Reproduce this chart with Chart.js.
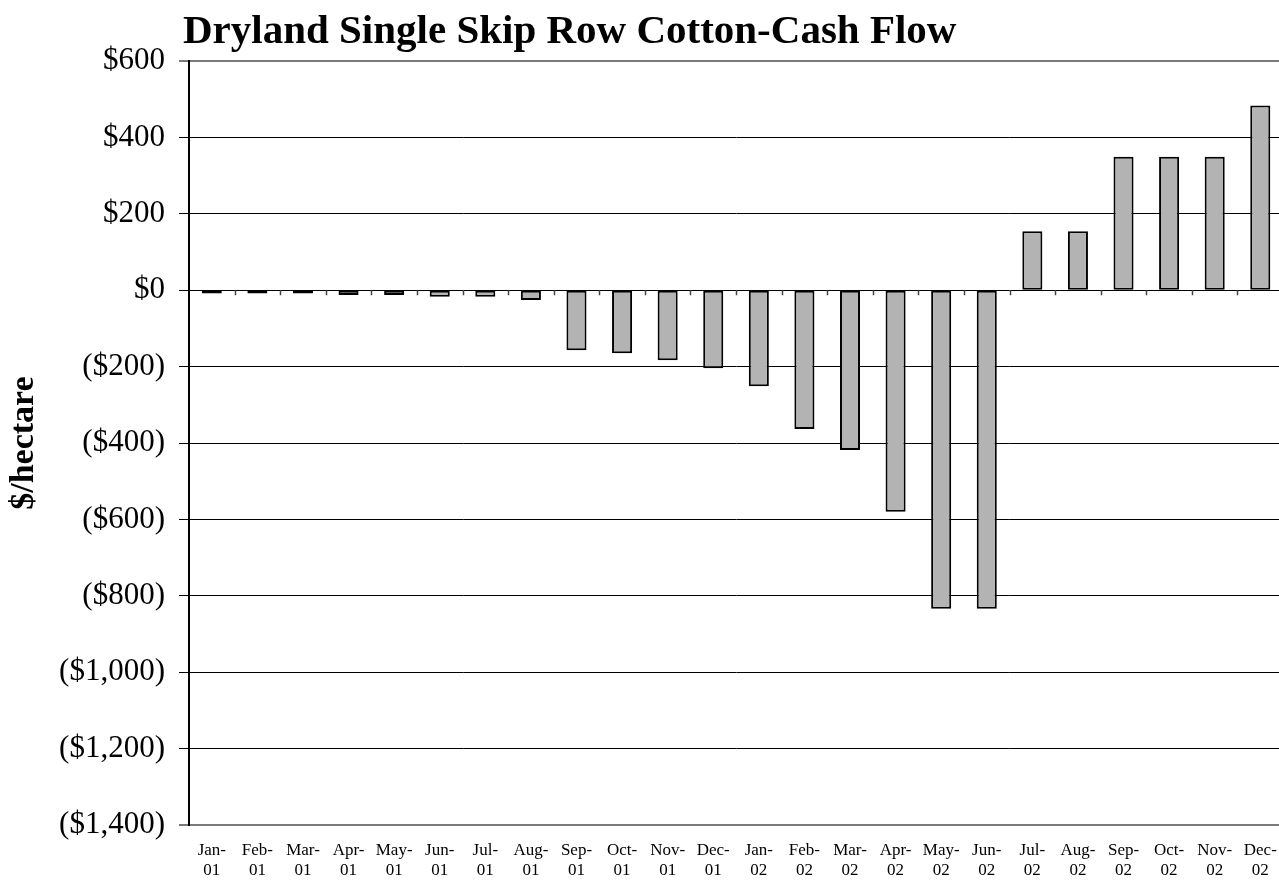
<!DOCTYPE html>
<html>
<head>
<meta charset="utf-8">
<title>Dryland Single Skip Row Cotton-Cash Flow</title>
<script src="https://cdn.jsdelivr.net/npm/chart.js@4"></script>
<style>
  html, body { margin: 0; padding: 0; background: #fff; overflow: hidden; }
  canvas { display: block; }
</style>
</head>
<body>
<canvas id="cashflow" width="1293" height="880"></canvas>
<script>
// monthly cash flow, $/hectare
const months = [
  ["Jan-", "01"], ["Feb-", "01"], ["Mar-", "01"], ["Apr-", "01"], ["May-", "01"], ["Jun-", "01"],
  ["Jul-", "01"], ["Aug-", "01"], ["Sep-", "01"], ["Oct-", "01"], ["Nov-", "01"], ["Dec-", "01"],
  ["Jan-", "02"], ["Feb-", "02"], ["Mar-", "02"], ["Apr-", "02"], ["May-", "02"], ["Jun-", "02"],
  ["Jul-", "02"], ["Aug-", "02"], ["Sep-", "02"], ["Oct-", "02"], ["Nov-", "02"], ["Dec-", "02"]
];
const cashFlow = [
  -8, -8, -8, -12, -12, -17, -17, -25, -157, -165, -183, -204,
  -251, -363, -418, -580, -834, -834, 155, 155, 350, 350, 350, 484
];
const yMin = -1400;
const yMax = 600;
const yStep = 200;

function money(v) {
  const s = "$" + Math.abs(v).toLocaleString("en-US");
  return v < 0 ? "(" + s + ")" : s;
}

// small category ticks sitting on the $0 line
const zeroTicks = {
  id: 'zeroTicks',
  afterLayout(chart) {
    // pull the title a little left of the plot edge
    if (chart.titleBlock) chart.titleBlock.left -= 6;
  },
  afterDatasetsDraw(chart) {
    const x = chart.scales.x, y = chart.scales.y;
    const y0 = y.getPixelForValue(0);
    const ctx = chart.ctx;
    ctx.save();
    ctx.strokeStyle = '#444';
    ctx.lineWidth = 1.5;
    ctx.beginPath();
    for (let i = 1; i < months.length; i++) {
      const px = Math.round((x.getPixelForValue(i - 1) + x.getPixelForValue(i)) / 2) + 0.5;
      ctx.moveTo(px, y0);
      ctx.lineTo(px, y0 + 5);
    }
    ctx.stroke();
    ctx.restore();
  }
};

const serif = "'Liberation Serif', 'Times New Roman', serif";

new Chart(document.getElementById('cashflow'), {
  type: 'bar',
  data: {
    labels: months,
    datasets: [{
      data: cashFlow,
      backgroundColor: '#b3b3b3',
      borderColor: '#000',
      borderWidth: 2,
      borderSkipped: false,
      categoryPercentage: 1,
      barPercentage: 0.44
    }]
  },
  options: {
    responsive: false,
    animation: false,
    layout: { padding: 0 },
    plugins: {
      legend: { display: false },
      tooltip: { enabled: false },
      title: {
        display: true,
        text: 'Dryland Single Skip Row Cotton-Cash Flow',
        align: 'start',
        fullSize: false,
        color: '#000',
        font: { family: serif, size: 41, weight: 'bold', lineHeight: 1.2 },
        padding: { top: 8, bottom: 4 }
      }
    },
    scales: {
      x: {
        grid: { display: false, drawTicks: false },
        border: { display: false },
        ticks: {
          color: '#000',
          font: { family: serif, size: 17, lineHeight: 1.15 },
          autoSkip: false,
          maxRotation: 0,
          padding: 16
        },
        afterFit(scale) { scale.height = 55; }
      },
      y: {
        min: yMin,
        max: yMax,
        ticks: {
          stepSize: yStep,
          color: '#000',
          font: { family: serif, size: 31 },
          padding: 14,
          callback: (v) => money(v)
        },
        grid: {
          color: (c) => (c.tick && (c.tick.value === yMin || c.tick.value === yMax)) ? '#7a7a7a' : '#000',
          lineWidth: (c) => (c.tick && (c.tick.value === yMin || c.tick.value === yMax)) ? 2 : 1,
          tickLength: 10
        },
        border: { display: true, color: '#000', width: 2 },
        title: {
          display: true,
          text: '$/hectare',
          color: '#000',
          font: { family: serif, size: 34, weight: 'bold' },
          padding: { top: 4, bottom: 0 }
        },
        afterFit(scale) { scale.width = 189; }
      }
    }
  },
  plugins: [zeroTicks]
});
</script>
</body>
</html>
